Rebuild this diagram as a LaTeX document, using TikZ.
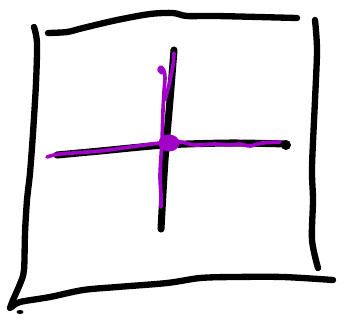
\documentclass[tikz,border=0pt]{standalone}
\usetikzlibrary{calc}
\definecolor{Ink}{HTML}{000000}
\definecolor{Violet}{HTML}{A000C8}
\tikzset{
    inkline/.style={Ink, line width=5.4pt, line cap=round, line join=round},
    crossline/.style={Ink, line width=6pt, line cap=round, line join=round},
    violetline/.style={Violet, line width=3.1pt, line cap=round, line join=round},
}

\begin{document}
\begin{tikzpicture}[x=0.03cm, y=-0.03cm]
            \useasboundingbox (0,0) rectangle (344,322);

            % Cornice
            \draw[inkline] plot[smooth] coordinates {(48,33) (67,32) (83,28) (117,20) (150,14) (173,13) (187,16) (217,16) (297,18)};
            \draw[inkline] plot[smooth] coordinates {(34,27) (37,43) (36,83) (33,133) (30,173) (27,200) (25,233) (24,270) (20,284) (13,300) (10,308)};
            \draw[inkline] plot[smooth] coordinates {(12,307) (20,302) (50,297) (83,290) (117,287) (167,283) (200,278) (233,277) (283,277) (333,280)};
            \draw[inkline] plot[smooth] coordinates {(315,20) (317,50) (315,100) (312,167) (313,200) (312,240) (318,268)};
            \fill[Ink] (20,312) ellipse (3.5 and 2);

            % Croce nera
            \draw[crossline] plot[smooth] coordinates {(174,50) (170,100) (165,160) (161,229)};
            \draw[crossline] plot[smooth] coordinates {(57,155) (100,151) (165,145) (230,143) (286,144)};
            \fill[Ink] (286,145) circle (5);

            % Croce viola
            \draw[violetline] plot[smooth] coordinates {(47,157) (60,154) (100,151) (130,147) (160,143) (180,142) (195,145) (215,144) (230,145) (240,144) (250,146) (262,143) (280,142)};
            \draw[violetline] plot[smooth] coordinates {(162,73) (159,70) (161,67) (164,71) (165,78) (164,92) (163,110) (162,140) (160,175) (161,195) (161,207)};
            \draw[violetline] plot[smooth] coordinates {(174,53) (173,65) (169,85) (165,100)};
            \coordinate (centro) at (169,143);
            \fill[Violet] (centro) ellipse (10.5 and 8.5);
        \end{tikzpicture}
\end{document}
